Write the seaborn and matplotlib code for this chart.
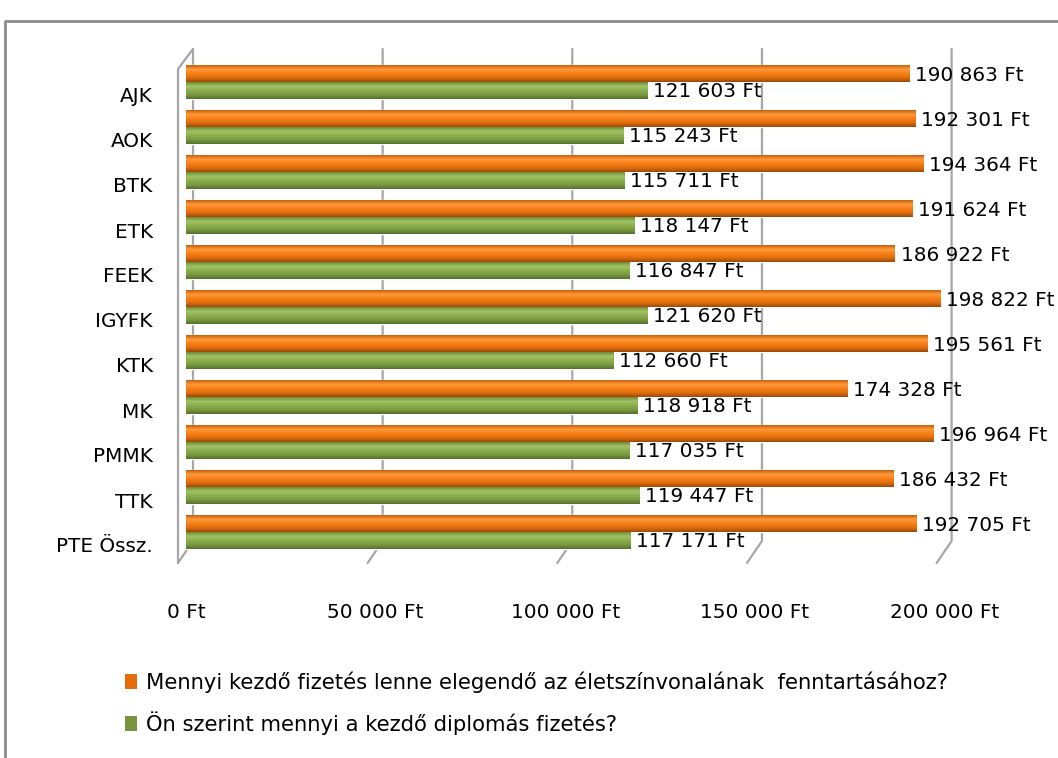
import numpy as np
import pandas as pd
import matplotlib
matplotlib.use("Agg")
import matplotlib.pyplot as plt
import matplotlib.transforms as mtrans
from matplotlib.colors import LinearSegmentedColormap
from matplotlib.lines import Line2D
from matplotlib.patches import Patch
import seaborn as sns

# --- data -------------------------------------------------------------
categories = ["AJK", "AOK", "BTK", "ETK", "FEEK", "IGYFK", "KTK", "MK",
              "PMMK", "TTK", "PTE Össz."]
elegendo = [190863, 192301, 194364, 191624, 186922, 198822, 195561,
            174328, 196964, 186432, 192705]
becsult = [121603, 115243, 115711, 118147, 116847, 121620, 112660,
           118918, 117035, 119447, 117171]
series_names = [
    "Mennyi kezdő fizetés lenne elegendő az életszínvonalának  fenntartásához?",
    "Ön szerint mennyi a kezdő diplomás fizetés?",
]
x_ticks = [0, 50000, 100000, 150000, 200000]


def ft(v):
    return f"{v:,.0f}".replace(",", " ") + " Ft"


df = pd.DataFrame({
    "Kar": categories * 2,
    "Összeg": elegendo + becsult,
    "Kérdés": [series_names[0]] * len(categories) + [series_names[1]] * len(categories),
})

# --- style ------------------------------------------------------------
sns.set_theme(style="white")
plt.rcParams["font.family"] = ["DejaVu Sans"]
plt.rcParams["text.color"] = "black"
FS = 14.4
FS_LEG = 15.2

ORANGE = "#F47A12"
GREEN = "#86A94A"
LEG_ORANGE = "#E46C0A"
LEG_GREEN = "#77933C"
GRID = "#A6A6A6"

W, H, DPI = 1058, 758, 100
fig = plt.figure(figsize=(W / DPI, H / DPI), dpi=DPI)
fig.patch.set_facecolor("white")

ax_left, ax_right = 186, 944.6
ax_top, ax_bottom = 59.5, 554.5
ax = fig.add_axes([ax_left / W, 1 - ax_bottom / H,
                   (ax_right - ax_left) / W, (ax_bottom - ax_top) / H])

sns.barplot(data=df, y="Kar", x="Összeg", hue="Kérdés", hue_order=series_names,
            palette=[ORANGE, GREEN], orient="h", width=0.74, saturation=1,
            legend=False, ax=ax, zorder=3)

ax.set_xlim(0, 200000)
ax.set_ylim(len(categories) - 0.5, -0.5)
for s in ax.spines.values():
    s.set_visible(False)
ax.grid(False)
ax.set_xlabel("")
ax.set_ylabel("")

# cylinder-like shading on every bar
cmaps = {
    0: LinearSegmentedColormap.from_list("o", ["#C8600C", "#FF9A3A", "#F87F16", "#E06E0E", "#9A4A08"]),
    1: LinearSegmentedColormap.from_list("g", ["#6E8C38", "#A2C466", "#8AAE4C", "#7A9A42", "#566F2C"]),
}
grad = np.linspace(0, 1, 64).reshape(-1, 1)
bars = [p for p in ax.patches if p.get_height() > 0]
for i, p in enumerate(bars):
    which = 0 if i < len(categories) else 1
    x0, y0, w, h = p.get_x(), p.get_y(), p.get_width(), p.get_height()
    im = ax.imshow(grad, extent=[x0, x0 + w, y0 + h, y0], aspect="auto",
                   cmap=cmaps[which], zorder=3.5, interpolation="bilinear")
    im.set_clip_path(p)
ax.set_xlim(0, 200000)
ax.set_ylim(len(categories) - 0.5, -0.5)

# value labels
for i, p in enumerate(bars):
    val = p.get_width()
    yc = p.get_y() + p.get_height() / 2
    ax.annotate(ft(val), (val, yc), xytext=(4, -1), textcoords="offset points",
                ha="left", va="center", fontsize=FS, color="black", zorder=6)

# category ticks, shifted onto the front edge of the floor
ax.set_yticks(range(len(categories)))
ax.set_yticklabels(categories, fontsize=FS, color="black")
ax.tick_params(axis="y", length=0, pad=24)
shift = mtrans.ScaledTranslation(0, -13 / DPI, fig.dpi_scale_trans)
for lab in ax.get_yticklabels():
    lab.set_transform(lab.get_transform() + shift)

ax.set_xticks(x_ticks)
ax.set_xticklabels([ft(v) for v in x_ticks], fontsize=FS, color="black")
ax.tick_params(axis="x", length=0, pad=35)

# 3-D back wall grid and floor edges
fig.canvas.draw()
back_top, back_bot, front_top, front_bot = 49, 541, 69, 563
depth_dx = 15


def fig_line(xs, ys, **kw):
    ax.add_line(Line2D([x / W for x in xs], [1 - y / H for y in ys],
                       transform=fig.transFigure, clip_on=False, **kw))


for v in x_ticks:
    xb = ax.transData.transform((v, 0))[0] + 7
    fig_line([xb, xb, xb - depth_dx], [back_top, back_bot, front_bot],
             color=GRID, lw=1.6, zorder=1)

x0b = ax.transData.transform((0, 0))[0] + 7
fig_line([x0b, x0b - depth_dx, x0b - depth_dx], [back_top, front_top, front_bot],
         color=GRID, lw=1.6, zorder=1)

# outer chart frame
fig.add_artist(Line2D([5 / W, 5 / W, 1.01], [-0.01, 1 - 21 / H, 1 - 21 / H],
                      transform=fig.transFigure, color="#8C8C8C", lw=2))

# legend
handles = [Patch(facecolor=LEG_ORANGE, edgecolor="none"),
           Patch(facecolor=LEG_GREEN, edgecolor="none")]
fig.legend(handles, series_names, loc="upper left",
           bbox_to_anchor=(117 / W, 1 - 663 / H), frameon=False, fontsize=FS_LEG,
           labelcolor="black", handlelength=0.55, handleheight=0.7,
           handletextpad=0.4, labelspacing=0.88, borderaxespad=0)

fig.savefig("out.png", dpi=DPI)
